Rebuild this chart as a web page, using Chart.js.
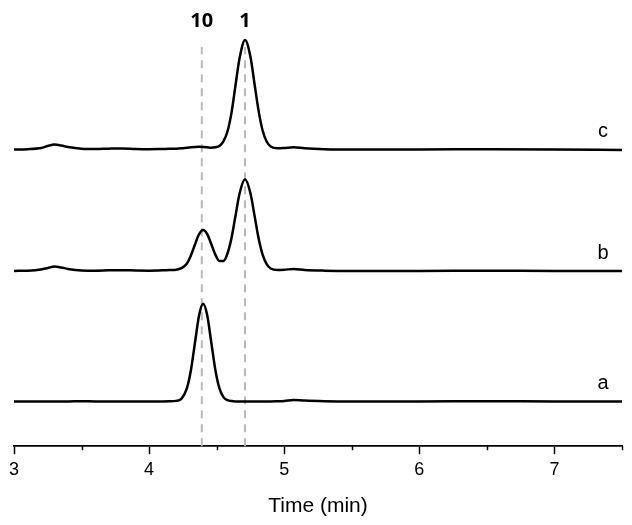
<!DOCTYPE html>
<html>
<head>
<meta charset="utf-8">
<script src="https://cdn.jsdelivr.net/npm/chart.js@4.4.1/dist/chart.umd.min.js"></script>
<style>
  html, body { margin: 0; padding: 0; background: #fff; }
  #wrap { width: 632px; height: 525px; }
</style>
</head>
<body>
<div id="wrap"><canvas id="hplcChart"></canvas></div>
<script>
// retention time grid (min)
const times = [3.0, 3.1, 3.2, 3.25, 3.3, 3.35, 3.4, 3.5, 3.6, 3.7, 3.8, 3.9, 4.0, 4.1, 4.15, 4.2,
    4.24, 4.28, 4.31, 4.34, 4.37, 4.4, 4.43, 4.46, 4.49, 4.52, 4.55, 4.58, 4.61, 4.64, 4.67,
    4.71, 4.75, 4.78, 4.81, 4.84, 4.87, 4.9, 4.95, 5.0, 5.07, 5.15, 5.3, 5.5, 6.0, 6.5, 7.0, 7.5];

// detector signal above each trace's baseline
const signalA = [0, 0, 0, 0, 0, 0, 0, 0.1, 0, 0, 0, 0, 0, 0, 0.1, 0.5,
    2.8, 13.3, 31.8, 59.4, 86.5, 98, 86.5, 59.4, 31.8, 13.3, 4.3, 1.3, 0.3, 0, 0,
    0, 0, 0, 0, 0, 0, 0, 0.2, 0.5, 1.5, 0.8, 0.2, 0, 0, 0.2, 0, 0];
const signalB = [0, 0.3, 1.5, 3, 4.5, 3.5, 2, 0.5, 0.3, 0.6, 0.8, 0.4, 0.3, 0.6, 0.9, 1.2,
    2.8, 7.5, 15.7, 26.8, 36.9, 41, 37, 27, 16.4, 10, 10, 17.5, 33.2, 55.8, 78,
    92, 78, 55.8, 33.1, 16.4, 6.8, 2.5, 1.0, 1.2, 2.0, 1.0, 0.3, 0, 0, 0.3, 0, 0];
const signalC = [0, 0.3, 1.5, 3.5, 5, 4, 2.5, 0.8, 0.5, 0.8, 1.0, 0.5, 0.3, 0.5, 0.6, 0.8,
    1.2, 1.8, 2.2, 2.5, 2.6, 2.5, 2.2, 1.8, 2.2, 3.5, 8, 18, 37, 65, 92,
    110, 93, 66, 39, 19, 8, 3, 1.2, 1.5, 2.2, 1.2, 0.3, 0, 0, 0.2, 0, -0.5];

const traceNames = ['a', 'b', 'c'];
const traceOffsets = [45, 176, 298];
const traceSignals = [signalA, signalB, signalC];

// reference retention times for compounds 10 and 1
const markerNames = ['10', '1'];
const markerTimes = [4.39, 4.71];

const xTicks = [3, 4, 5, 6, 7];
const xMinorTicks = [3.5, 4.5, 5.5, 6.5, 7.5];

const traceSets = traceSignals.map((sig, k) => ({
    label: traceNames[k],
    data: times.map((t, i) => ({ x: t, y: traceOffsets[k] + sig[i] })),
    borderColor: '#000',
    borderWidth: 2.5,
    pointRadius: 0,
    cubicInterpolationMode: 'monotone',
    fill: false
}));

const markerSets = markerTimes.map((t, k) => ({
    label: 'marker ' + markerNames[k],
    data: [{ x: t, y: 0 }, { x: t, y: 401 }],
    borderColor: '#b8b8b8',
    borderWidth: 2,
    borderDash: [8, 6],
    pointRadius: 0,
    fill: false
}));

const textPlugin = {
    id: 'chromLabels',
    afterDraw(chart) {
        const ctx = chart.ctx;
        const xs = chart.scales.x;
        const ys = chart.scales.y;
        ctx.save();
        // minor ticks
        ctx.strokeStyle = '#000';
        ctx.lineWidth = 1.5;
        xMinorTicks.forEach(t => {
            const px = Math.round(xs.getPixelForValue(t)) + 0.5;
            ctx.beginPath();
            ctx.moveTo(px, ys.bottom);
            ctx.lineTo(px, ys.bottom + 4);
            ctx.stroke();
        });
        // trace labels
        ctx.fillStyle = '#000';
        ctx.textAlign = 'center';
        ctx.textBaseline = 'middle';
        ctx.font = '20px "Liberation Sans", Arial, sans-serif';
        traceNames.forEach((name, k) => {
            ctx.fillText(name, xs.getPixelForValue(7.36), ys.getPixelForValue(traceOffsets[k] + 18));
        });
        // compound labels
        ctx.font = 'bold 20px "Open Sans", "Noto Sans", sans-serif';
        markerNames.forEach((name, k) => {
            ctx.fillText(name, xs.getPixelForValue(markerTimes[k]), 21);
        });
        ctx.restore();
    }
};

new Chart(document.getElementById('hplcChart').getContext('2d'), {
    type: 'line',
    data: { datasets: [...traceSets, ...markerSets] },
    options: {
        responsive: true,
        maintainAspectRatio: false,
        animation: false,
        devicePixelRatio: 1,
        layout: { padding: { left: 14, right: 10, top: 18, bottom: 2 } },
        plugins: {
            legend: { display: false },
            tooltip: { enabled: false }
        },
        scales: {
            x: {
                type: 'linear',
                min: 3,
                max: 7.5,
                afterBuildTicks: scale => {
                    scale.ticks = xTicks.map(v => ({ value: v }));
                },
                grid: {
                    drawOnChartArea: false,
                    drawTicks: true,
                    tickLength: 8,
                    tickWidth: 1.5,
                    tickColor: '#000'
                },
                border: { display: true, color: '#000', width: 1.8 },
                ticks: {
                    color: '#000',
                    padding: 5,
                    maxRotation: 0,
                    font: { family: '"Liberation Sans", Arial, sans-serif', size: 18 }
                },
                title: {
                    display: true,
                    text: 'Time (min)',
                    color: '#000',
                    padding: { top: 8, bottom: 4 },
                    font: { family: '"Liberation Sans", Arial, sans-serif', size: 21 }
                }
            },
            y: {
                display: false,
                min: 0,
                max: 430
            }
        }
    },
    plugins: [textPlugin]
});
</script>
</body>
</html>
